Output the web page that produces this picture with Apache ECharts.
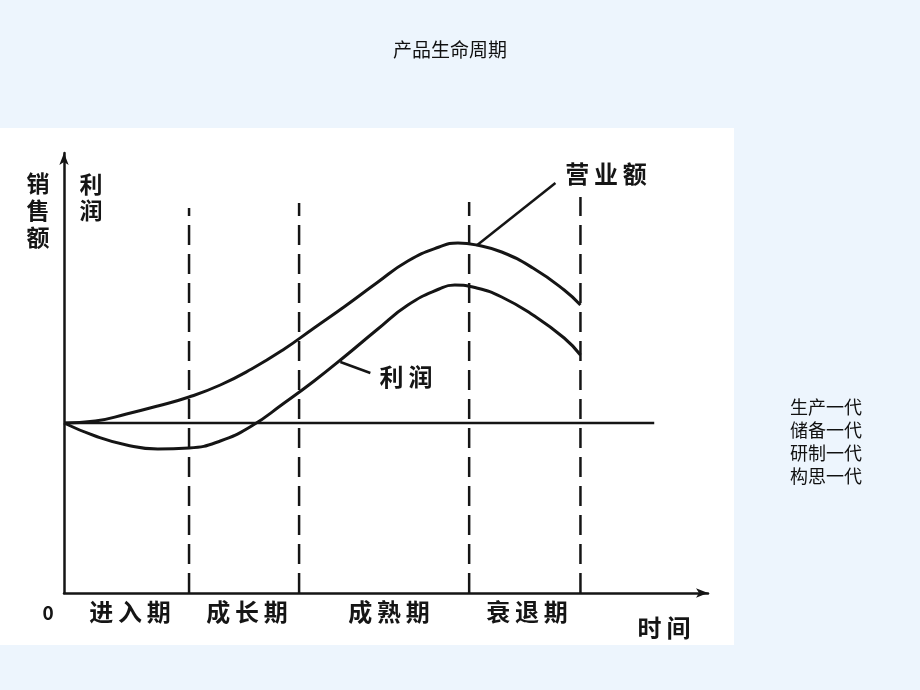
<!DOCTYPE html>
<html>
<head>
<meta charset="utf-8">
<script src="https://cdn.jsdelivr.net/npm/echarts@6/dist/echarts.min.js"></script>
<style>
html,body{margin:0;padding:0;background:#EDF5FD;}
#c{width:920px;height:690px;}
</style>
</head>
<body>
<div id="c"></div>
<script>
// time (arbitrary units along the life cycle)
var timeSteps    = [0, 5, 10, 15, 20, 25, 30, 35, 40, 45, 50, 55, 60, 63, 66, 70, 75, 80, 82.6];
// 营业额 (sales), relative to the profit zero line
var salesValues  = [0, 0.2, 0.9, 1.7, 2.6, 3.8, 5.4, 7.3, 9.5, 11.7, 14.0, 16.2, 17.6, 18.0, 17.8, 17.1, 15.5, 13.3, 11.8];
// 利润 (profit)
var profitTimes  = [0, 5, 10, 15, 20, 25, 30, 35, 40, 45, 50, 55, 60, 62.5, 66, 70, 75, 80, 82.6];
var profitValues = [0, -1.3, -2.2, -2.6, -2.5, -1.8, -0.3, 1.9, 4.2, 6.7, 9.3, 11.8, 13.4, 13.8, 13.5, 12.6, 10.8, 8.5, 6.8];
// stage boundaries (dashed lines) and their tops
var stageBoundaries = [20, 37.6, 64.8, 82.6];
var stageTops       = [21.5, 22.0, 22.1, 22.6];
var stageNames      = ['进\u2009入\u2009期', '成\u2009长\u2009期', '成\u2009熟\u2009期', '衰\u2009退\u2009期'];
var zeroLineEnd = 94.4;
var generations = ['生产一代', '储备一代', '研制一代', '构思一代'];

var chart = echarts.init(document.getElementById('c'), null, {renderer: 'canvas'});
var ink = '#151515';
var cjk = '"Noto Sans CJK SC", "Noto Sans", sans-serif';

function zip(xs, ys) { return xs.map(function (x, i) { return [x, ys[i]]; }); }

var series = [
  {type: 'line', data: zip(timeSteps, salesValues), smooth: 0.5, symbol: 'none',
   lineStyle: {color: ink, width: 3}, z: 5},
  {type: 'line', data: zip(profitTimes, profitValues), smooth: 0.5, symbol: 'none',
   lineStyle: {color: ink, width: 3}, z: 5},
  {type: 'line', data: [[0, 0], [zeroLineEnd, 0]], symbol: 'none',
   lineStyle: {color: ink, width: 2.5}, z: 4},
  // leader lines
  {type: 'line', data: [[66.1, 17.8], [78.6, 24.0]], symbol: 'none',
   lineStyle: {color: ink, width: 2.5}, z: 4},
  {type: 'line', data: [[44.2, 6.1], [49.0, 5.0]], symbol: 'none',
   lineStyle: {color: ink, width: 2.5}, z: 4}
];
stageBoundaries.forEach(function (b, i) {
  series.push({type: 'line', data: [[b, -17], [b, stageTops[i]]], symbol: 'none',
    lineStyle: {color: ink, width: 2.5, type: [20, 9]}, z: 3});
});

var graphics = [
  {type: 'rect', shape: {x: 0, y: 128, width: 734, height: 517}, style: {fill: '#ffffff'}, z: -10, silent: true},
  {type: 'text', x: 450, y: 50, style: {text: '产品生命周期', font: 'normal 19px ' + cjk, fill: '#111', textAlign: 'center', textVerticalAlign: 'middle'}},
  {type: 'text', x: 790, y: 396, style: {text: generations.join('\n'), font: 'normal 18px ' + cjk, lineHeight: 23, fill: '#111', textAlign: 'left', textVerticalAlign: 'top'}},
  {type: 'text', x: 38, y: 210, style: {text: '销\n售\n额', font: 'bold 23px ' + cjk, lineHeight: 27, fill: ink, textAlign: 'center', textVerticalAlign: 'middle'}},
  {type: 'text', x: 91, y: 197, style: {text: '利\n润', font: 'bold 23px ' + cjk, lineHeight: 26, fill: ink, textAlign: 'center', textVerticalAlign: 'middle'}},
  {type: 'text', x: 48, y: 613, style: {text: '0', font: 'bold 19px ' + cjk, fill: ink, textAlign: 'center', textVerticalAlign: 'middle'}},
  {type: 'text', x: 664, y: 628, style: {text: '时\u2009间', font: 'bold 24px ' + cjk, fill: ink, textAlign: 'center', textVerticalAlign: 'middle'}},
  {type: 'text', x: 406, y: 377, style: {text: '利\u2009润', font: 'bold 24px ' + cjk, fill: ink, textAlign: 'center', textVerticalAlign: 'middle'}},
  {type: 'text', x: 606, y: 174, style: {text: '营\u2009业\u2009额', font: 'bold 24px ' + cjk, fill: ink, textAlign: 'center', textVerticalAlign: 'middle'}}
];
var stageCenters = [130, 247, 389, 527];
stageNames.forEach(function (n, i) {
  graphics.push({type: 'text', x: stageCenters[i], y: 612, style: {text: n, font: 'bold 24px ' + cjk, fill: ink, textAlign: 'center', textVerticalAlign: 'middle'}});
});

chart.setOption({
  backgroundColor: 'transparent',
  animation: false,
  grid: {left: 64, top: 153, width: 644, height: 440},
  xAxis: {type: 'value', min: 0, max: 103, axisLine: {show: true, onZero: false, lineStyle: {color: ink, width: 2.5}, symbol: ['none', 'arrow'], symbolSize: [7, 12]},
          axisTick: {show: false}, axisLabel: {show: false}, splitLine: {show: false}},
  yAxis: {type: 'value', min: -17, max: 27, axisLine: {show: true, onZero: false, lineStyle: {color: ink, width: 2.5}, symbol: ['none', 'arrow'], symbolSize: [7, 12]},
          axisTick: {show: false}, axisLabel: {show: false}, splitLine: {show: false}},
  series: series,
  graphic: graphics
});
</script>
</body>
</html>
